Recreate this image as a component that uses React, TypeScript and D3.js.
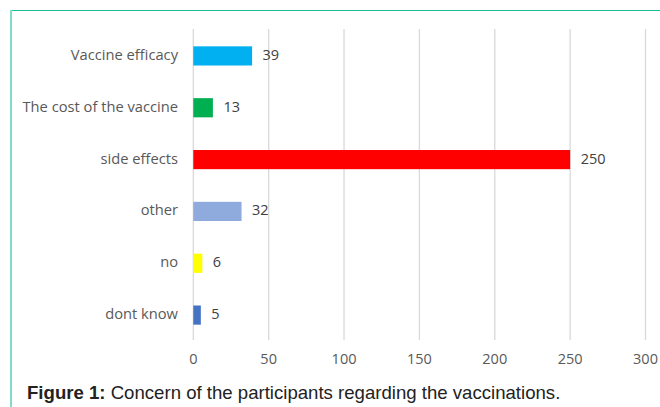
import React from "react";
import * as d3 from "d3";

const categories = ["Vaccine efficacy", "The cost of the vaccine", "side effects", "other", "no", "dont know"];
const values = [39, 13, 250, 32, 6, 5];
const colors = ["#00B0F0", "#00B050", "#FF0000", "#8FAADC", "#FFFF00", "#4472C4"];
const xTicks = [0, 50, 100, 150, 200, 250, 300];
const caption = "Concern of the participants regarding the vaccinations.";

export default function App() {
  const W = 660, H = 407;
  const x = d3.scaleLinear().domain([0, 300]).range([193.3, 645.5]);
  const y = d3.scaleBand<string>().domain(categories).range([30, 341]).paddingInner(0.63).paddingOuter(0.315);
  const font = "'Open Sans', sans-serif";
  const capFont = "'Liberation Sans', Arial, sans-serif";
  return (
    <svg width={W} height={H} style={{ position: "absolute", left: 0, top: 0 }}>
      <rect width={W} height={H} fill="#fff" />
      <line x1={11} x2={W} y1={10.5} y2={10.5} stroke="#1ABC9C" strokeWidth={1.2} />
      <line x1={11} x2={11} y1={10} y2={H} stroke="#82DCC9" strokeWidth={2} />
      {xTicks.map((t) => (
        <line key={t} x1={x(t)} x2={x(t)} y1={29} y2={340} stroke="#D9D9D9" strokeWidth={1.3} />
      ))}
      {categories.map((c, i) => (
        <g key={c}>
          <rect x={x(0)} y={y(c)} width={x(values[i]) - x(0)} height={y.bandwidth()} fill={colors[i]} />
          <text x={x(values[i]) + 10.5} y={(y(c) as number) + y.bandwidth() / 2 + 4} fontSize={14.5} fill="#404040" fontFamily={font}>
            {values[i]}
          </text>
          <text x={178} y={(y(c) as number) + y.bandwidth() / 2 + 4} textAnchor="end" fontSize={14.7} fill="#595959" fontFamily={font}>
            {c}
          </text>
        </g>
      ))}
      {xTicks.map((t) => (
        <text key={t} x={x(t)} y={364} textAnchor="middle" fontSize={14.5} fill="#595959" fontFamily={font}>
          {t}
        </text>
      ))}
      <text x={27} y={399} fontSize={18.6} fill="#222" fontFamily={capFont}>
        <tspan fontWeight="bold">Figure 1:</tspan> {caption}
      </text>
    </svg>
  );
}
